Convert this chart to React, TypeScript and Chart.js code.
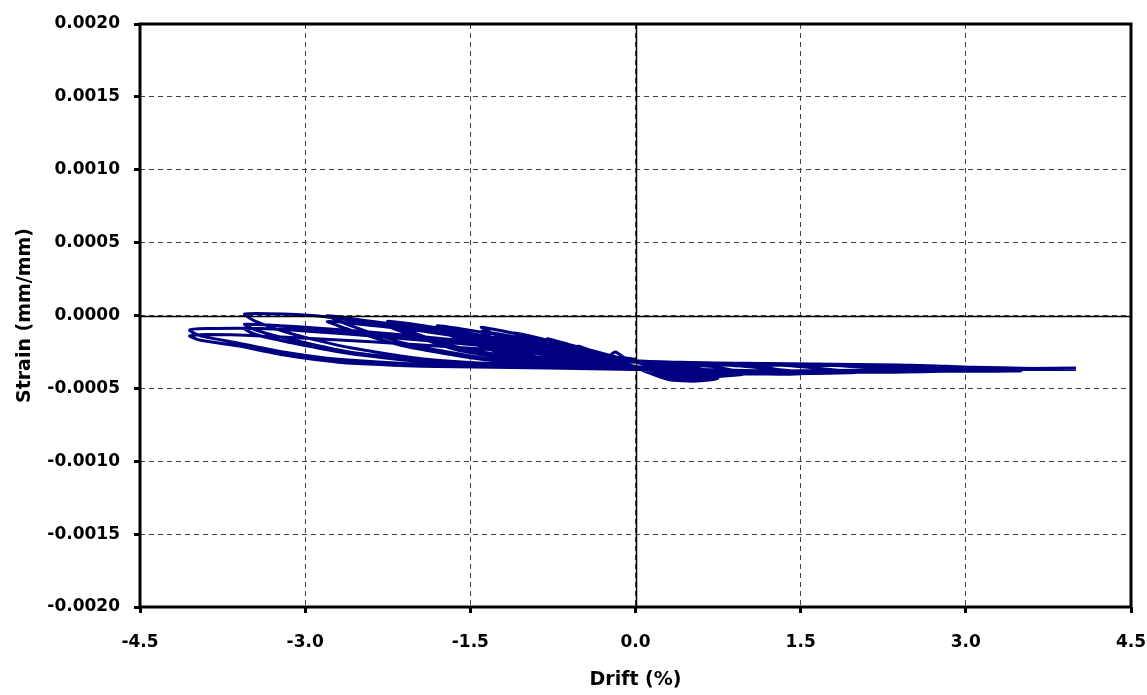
import React, { useEffect, useRef } from "react";
import { Chart, registerables } from "chart.js";

Chart.register(...registerables);

const xTickValues = [-4.5, -3.0, -1.5, 0.0, 1.5, 3.0, 4.5];
const yTickValues = [-0.002, -0.0015, -0.001, -0.0005, 0, 0.0005, 0.001, 0.0015, 0.002];

// Drift (%) history
const driftPct = [
  0.0, -0.1, -0.18, -0.22, -0.15, -0.05, 0.0, 0.12, 0.25, 0.15, 0.05, 0.0,
  -0.2, -0.4, -0.52, -0.4, -0.2, 0.0, 0.2, 0.35, 0.5, 0.35, 0.15, 0.0,
  -0.2, -0.4, -0.52, -0.4, -0.2, 0.0, 0.2, 0.35, 0.5, 0.35, 0.15, 0.0,
  -0.3, -0.6, -0.8, -0.7, -0.45, -0.2, 0.0, 0.3, 0.55, 0.75, 0.55, 0.25, 0.0,
  -0.3, -0.6, -0.8, -0.7, -0.45, -0.2, 0.0, 0.3, 0.55, 0.75, 0.55, 0.25, 0.0,
  -0.4, -0.8, -1.1, -0.95, -0.65, -0.3, 0.0, 0.4, 0.7, 1.0, 0.7, 0.35, 0.0,
  -0.4, -0.8, -1.1, -0.95, -0.65, -0.3, 0.0, 0.4, 0.7, 1.0, 0.7, 0.35, 0.0,
  -0.5, -1.0, -1.4, -1.25, -0.9, -0.45, 0.0, 0.5, 1.0, 1.5, 1.0, 0.5, 0.0,
  -0.5, -1.0, -1.4, -1.25, -0.9, -0.45, 0.0, 0.5, 1.0, 1.5, 1.0, 0.5, 0.0,
  -0.6, -1.2, -1.8, -1.6, -1.2, -0.6, 0.0, 0.7, 1.4, 2.0, 1.3, 0.6, 0.0,
  -0.6, -1.2, -1.8, -1.6, -1.2, -0.6, 0.0, 0.7, 1.4, 2.0, 1.3, 0.6, 0.0,
  -0.8, -1.6, -2.25, -2.05, -1.6, -0.9, 0.0, 0.8, 1.7, 2.5, 1.7, 0.8, 0.0,
  -0.8, -1.6, -2.25, -2.05, -1.6, -0.9, 0.0, 0.8, 1.7, 2.5, 1.7, 0.8, 0.0,
  -0.9, -1.9, -2.5, -2.8, -2.55, -2.1, -1.4, -0.6, 0.0, 1.0, 2.0, 3.0, 2.0, 1.0, 0.0,
  -0.9, -1.9, -2.5, -2.8, -2.55, -2.1, -1.4, -0.6, 0.0, 1.0, 2.0, 3.0, 2.0, 1.0, 0.0,
  -1.0, -2.0, -2.8, -3.2, -3.55, -3.45, -3.1, -2.6, -1.9, -1.0, 0.0, 1.2, 2.4, 3.5, 2.4, 1.2, 0.0,
  -1.0, -2.0, -3.0, -3.55, -3.45, -3.1, -2.6, -1.9, -1.0, 0.0, 1.2, 2.4, 3.5, 2.4, 1.2, 0.0,
  -1.0, -2.0, -3.0, -3.55, -3.45, -3.1, -2.6, -1.9, -1.0, 0.0, 1.2, 2.4, 3.5, 2.4, 1.2, 0.0,
  -1.2, -2.4, -3.4, -3.9, -4.05, -3.95, -3.6, -3.2, -2.7, -1.8, -0.8, 0.0, 1.3, 2.7, 4.0, 2.7, 1.3, 0.0,
  -1.2, -2.4, -3.4, -3.9, -4.05, -3.95, -3.6, -3.2, -2.7, -1.8, -0.8, 0.0, 1.3, 2.7, 4.0,
];

// Strain (mm/mm) history
const strainMm = [
  -0.0003, -0.00029, -0.00025, -0.00027, -0.00031, -0.00034, -0.00035, -0.00036, -0.00039, -0.00035, -0.00033, -0.00032,
  -0.00028, -0.00024, -0.00021, -0.00026, -0.00031, -0.00035, -0.0004, -0.00044, -0.00043, -0.00037, -0.00034, -0.00032,
  -0.00029, -0.00025, -0.00023, -0.00027, -0.00032, -0.00036, -0.00041, -0.00044, -0.00042, -0.00037, -0.00034, -0.00032,
  -0.00026, -0.0002, -0.00016, -0.00021, -0.00028, -0.00033, -0.00036, -0.00044, -0.00045, -0.00043, -0.00036, -0.00034, -0.00032,
  -0.00027, -0.00022, -0.00019, -0.00023, -0.0003, -0.00034, -0.00036, -0.00043, -0.00044, -0.00042, -0.00036, -0.00034, -0.00032,
  -0.00025, -0.00017, -0.00012, -0.00018, -0.00026, -0.00033, -0.00036, -0.00043, -0.00042, -0.0004, -0.00035, -0.00034, -0.00032,
  -0.00026, -0.00019, -0.00015, -0.0002, -0.00028, -0.00034, -0.00036, -0.00042, -0.00041, -0.0004, -0.00035, -0.00034, -0.00032,
  -0.00024, -0.00014, -0.00008, -0.00014, -0.00024, -0.00032, -0.00036, -0.00041, -0.0004, -0.0004, -0.00034, -0.00033, -0.00032,
  -0.00025, -0.00016, -0.00011, -0.00017, -0.00026, -0.00033, -0.00036, -0.0004, -0.0004, -0.00039, -0.00035, -0.00033, -0.00032,
  -0.00024, -0.00014, -0.00007, -0.00014, -0.00024, -0.00032, -0.00036, -0.0004, -0.0004, -0.00039, -0.00034, -0.00033, -0.00031,
  -0.00025, -0.00016, -0.0001, -0.00016, -0.00026, -0.00033, -0.00036, -0.00039, -0.00039, -0.00039, -0.00034, -0.00033, -0.00031,
  -0.00022, -0.00011, -0.00004, -0.00011, -0.00022, -0.00031, -0.00036, -0.00039, -0.00039, -0.00038, -0.00034, -0.00033, -0.00031,
  -0.00023, -0.00013, -0.00007, -0.00013, -0.00024, -0.00032, -0.00036, -0.00039, -0.00039, -0.00038, -0.00034, -0.00033, -0.00031,
  -0.00021, -0.00009, -0.00003, 0.0, -0.00008, -0.00019, -0.00029, -0.00034, -0.00036, -0.00039, -0.00039, -0.00038, -0.00034, -0.00033, -0.00031,
  -0.00022, -0.00011, -0.00006, -0.00004, -0.00011, -0.00021, -0.0003, -0.00035, -0.00036, -0.00039, -0.00039, -0.00038, -0.00034, -0.00033, -0.00031,
  -0.00021, -0.0001, -0.00001, 0.00001, 0.00001, -0.00004, -0.00013, -0.00022, -0.0003, -0.00034, -0.00036, -0.00038, -0.00038, -0.00037, -0.00034, -0.00033, -0.00031,
  -0.00022, -0.00014, -0.00008, -0.00006, -0.0001, -0.00017, -0.00025, -0.00031, -0.00035, -0.00036, -0.00038, -0.00038, -0.00038, -0.00034, -0.00034, -0.00031,
  -0.00023, -0.00016, -0.0001, -0.00009, -0.00013, -0.00019, -0.00026, -0.00032, -0.00035, -0.00036, -0.00038, -0.00038, -0.00037, -0.00034, -0.00034, -0.00031,
  -0.00022, -0.00014, -0.00009, -0.00009, -0.0001, -0.00014, -0.00019, -0.00025, -0.0003, -0.00034, -0.00036, -0.00037, -0.00038, -0.00037, -0.00037, -0.00035, -0.00034, -0.00032,
  -0.00024, -0.00018, -0.00014, -0.00013, -0.00014, -0.00017, -0.00021, -0.00027, -0.00032, -0.00035, -0.00036, -0.00037, -0.00038, -0.00037, -0.00036,
];

const xTitle = "Drift (%)";
const yTitle = "Strain (mm/mm)";

const FONT = "'DejaVu Sans', 'Liberation Sans', Arial, sans-serif";

const framePlugin = {
  id: "frameAndZero",
  afterDatasetsDraw(chart: any) {
    const { ctx, chartArea, scales } = chart;
    ctx.save();
    ctx.strokeStyle = "#000";
    ctx.lineWidth = 1.5;
    const x0 = Math.round(scales.x.getPixelForValue(0)) + 0.5;
    const y0 = Math.round(scales.y.getPixelForValue(0)) + 0.5;
    ctx.beginPath();
    ctx.moveTo(x0, chartArea.top);
    ctx.lineTo(x0, chartArea.bottom);
    ctx.moveTo(chartArea.left, y0);
    ctx.lineTo(chartArea.right, y0);
    ctx.stroke();
    ctx.lineWidth = 3;
    ctx.strokeRect(chartArea.left, chartArea.top, chartArea.right - chartArea.left, chartArea.bottom - chartArea.top);
    ctx.restore();
  },
};

export default function App() {
  const ref = useRef<HTMLCanvasElement | null>(null);
  useEffect(() => {
    if (!ref.current) return;
    const points = driftPct.map((d, i) => ({ x: d, y: strainMm[i] }));
    const chart = new Chart(ref.current, {
      type: "scatter",
      data: {
        datasets: [
          {
            data: points,
            showLine: true,
            borderColor: "#000080",
            backgroundColor: "#000080",
            borderWidth: 3,
            pointRadius: 0,
            tension: 0.2,
          },
        ],
      },
      options: {
        animation: false,
        responsive: false,
        maintainAspectRatio: false,
        layout: { padding: { top: 24, right: 16, left: 0, bottom: 0 } },
        plugins: { legend: { display: false }, tooltip: { enabled: false } },
        scales: {
          x: {
            type: "linear",
            min: -4.5,
            max: 4.5,
            afterBuildTicks: (s: any) => {
              s.ticks = xTickValues.map((v) => ({ value: v }));
            },
            afterFit: (s: any) => {
              s.height = 88;
              s.paddingLeft = 0;
              s.paddingRight = 0;
            },
            ticks: {
              callback: (v: any) => Number(v).toFixed(1),
              color: "#000",
              font: { family: FONT, size: 17, weight: "bold" },
              padding: 19,
              maxRotation: 0,
            },
            grid: {
              color: "#444",
              lineWidth: 1,
              tickColor: "#000",
              tickLength: 6,
              tickWidth: 3,
            },
            border: { display: false, dash: [5, 4] },
            title: {
              display: true,
              text: xTitle,
              color: "#000",
              font: { family: FONT, size: 19, weight: "bold" },
              padding: { top: 6 },
            },
          },
          y: {
            type: "linear",
            min: -0.002,
            max: 0.002,
            afterBuildTicks: (s: any) => {
              s.ticks = yTickValues.map((v) => ({ value: v }));
            },
            afterFit: (s: any) => {
              s.width = 140;
              s.paddingTop = 0;
              s.paddingBottom = 0;
            },
            ticks: {
              callback: (v: any) => Number(v).toFixed(4),
              color: "#000",
              font: { family: FONT, size: 17, weight: "bold" },
              padding: 14,
            },
            grid: {
              color: "#444",
              lineWidth: 1,
              tickColor: "#000",
              tickLength: 6,
              tickWidth: 3,
            },
            border: { display: false, dash: [5, 4] },
            title: {
              display: true,
              text: yTitle,
              color: "#000",
              font: { family: FONT, size: 19, weight: "bold" },
              padding: { top: 14 },
            },
          },
        },
      },
      plugins: [framePlugin],
    });
    return () => chart.destroy();
  }, []);
  return (
    <div style={{ position: "fixed", left: 0, top: 0, width: 1147, height: 695, background: "#fff" }}>
      <canvas ref={ref} width={1147} height={695} style={{ width: 1147, height: 695 }} />
    </div>
  );
}
